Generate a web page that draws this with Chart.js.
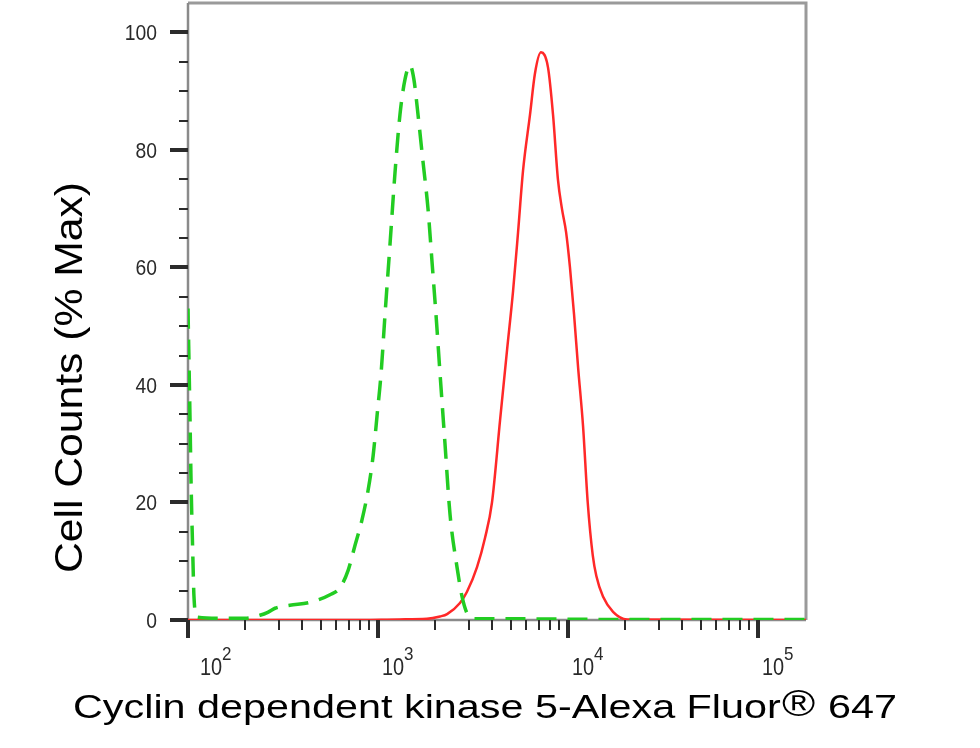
<!DOCTYPE html>
<html>
<head>
<meta charset="utf-8">
<script src="https://cdn.jsdelivr.net/npm/chart.js@4.4.1/dist/chart.umd.min.js"></script>
<style>
  html, body { margin: 0; padding: 0; background: #fff; }
  canvas { display: block; }
</style>
</head>
<body>
<canvas id="chart" width="980" height="748"></canvas>
<script>
// isotype control (green dashed)
const greenX = [100, 102.5, 103.7, 106.2, 107.5, 111.5, 150, 200, 239, 263, 287, 344, 438, 559, 631, 697, 754, 823, 886, 943, 990, 1038, 1089, 1157, 1228, 1305, 1387, 1473, 1545, 1624, 1725, 1833, 1924, 2019, 2120, 2252, 2393, 2605, 2768, 2938, 3241, 5590, 14720, 178900];
const greenY = [53, 34, 24, 10, 4, 0.5, 0.3, 0.3, 0.8, 1.3, 2, 2.5, 3, 4.3, 5.5, 8.5, 12.5, 17, 22, 28, 35, 42, 52, 64, 76, 86, 92, 94.4, 92, 86, 78, 70, 61, 52, 42, 30, 18, 9, 4, 1.2, 0.2, 0.2, 0.1, 0.1];

// CDK5 stained sample (red)
const redX = [100, 700, 1300, 1810, 2120, 2310, 2700, 2940, 3320, 3660, 3980, 4390, 4780, 5140, 5460, 5800, 6310, 6700, 7210, 7850, 8340, 8850, 9290, 9770, 10240, 10760, 11300, 12000, 12700, 13500, 14100, 15280, 17260, 20460, 178900];
const redY = [0, 0, 0.1, 0.2, 0.6, 1.0, 2.9, 4.8, 9, 14, 20, 34, 46, 56, 66, 76.5, 86, 93, 96.6, 94, 86, 75, 70, 66, 60, 52, 43, 33, 20, 11, 7.5, 4, 1.4, 0.1, 0];

const xMajor = [100, 1000, 10000, 100000];
const xExponents = ['2', '3', '4', '5'];
const yTicks = [0, 20, 40, 60, 80, 100];
const yLabel = 'Cell Counts (% Max)';
const xLabelMain = 'Cyclin dependent kinase 5-Alexa Fluor';
const xLabelSup = '\u00AE';
const xLabelEnd = ' 647';

const FONT = "'Liberation Sans', Arial, sans-serif";

function toPoints(xs, ys) {
    return xs.map((x, i) => ({ x: x, y: ys[i] }));
}

function drawScaled(ctx, text, x, y, size, sx, sy, align) {
    ctx.save();
    ctx.translate(x, y);
    ctx.scale(sx, sy);
    ctx.font = size + 'px ' + FONT;
    ctx.textAlign = align || 'left';
    ctx.textBaseline = 'alphabetic';
    ctx.fillText(text, 0, 0);
    ctx.restore();
}

const flowAxes = {
    id: 'flowAxes',
    beforeDatasetsDraw(chart) {
        const { ctx, chartArea: a } = chart;
        ctx.save();
        ctx.strokeStyle = '#9a9a9a';
        ctx.lineWidth = 3;
        ctx.beginPath();
        ctx.moveTo(a.left, a.top);
        ctx.lineTo(a.right, a.top);
        ctx.lineTo(a.right, a.bottom);
        ctx.stroke();
        ctx.strokeStyle = '#8a8a8a';
        ctx.lineWidth = 2.5;
        ctx.beginPath();
        ctx.moveTo(a.left, a.top);
        ctx.lineTo(a.left, a.bottom);
        ctx.lineTo(a.right, a.bottom);
        ctx.stroke();
        ctx.restore();
    },
    afterDraw(chart) {
        const { ctx, chartArea: a } = chart;
        const xs = chart.scales.x;
        const ys = chart.scales.y;
        ctx.save();
        ctx.strokeStyle = '#2b2b2b';
        ctx.fillStyle = '#2a2a2a';

        // y ticks: major every 20, minor every 5
        for (let v = 0; v <= 100; v += 5) {
            const py = Math.round(ys.getPixelForValue(v));
            const major = v % 20 === 0;
            ctx.lineWidth = major ? 4 : 2;
            ctx.beginPath();
            ctx.moveTo(a.left - (major ? 18 : 9), py);
            ctx.lineTo(a.left, py);
            ctx.stroke();
        }
        yTicks.forEach(v => {
            const py = ys.getPixelForValue(v);
            drawScaled(ctx, String(v), a.left - 31, py + 8, 21, 0.92, 1.08, 'right');
        });

        // x ticks: decades and 2..9 minors
        xMajor.forEach(dec => {
            for (let m = 1; m <= 9; m++) {
                const v = dec * m;
                if (v > xs.max) break;
                const px = Math.round(xs.getPixelForValue(v));
                const major = m === 1;
                ctx.lineWidth = major ? 4 : 2;
                ctx.beginPath();
                ctx.moveTo(px, a.bottom);
                ctx.lineTo(px, a.bottom + (major ? 18 : 10));
                ctx.stroke();
            }
        });
        xMajor.forEach((v, i) => {
            const px = Math.max(xs.getPixelForValue(v) + 4, a.left + 12);
            drawScaled(ctx, '10', px, 675, 21, 0.95, 1.15, 'left');
            drawScaled(ctx, xExponents[i], px + 22, 660, 17, 1, 1.07, 'left');
        });

        // axis titles
        ctx.fillStyle = '#000';
        ctx.font = '33px ' + FONT;
        const w1 = ctx.measureText(xLabelMain).width;
        const w3 = ctx.measureText(xLabelEnd).width;
        ctx.font = '36px ' + FONT;
        const w2 = ctx.measureText(xLabelSup).width;
        const sx = 824 / (w1 + w2 + 2 + w3);
        let tx = 73;
        drawScaled(ctx, xLabelMain, tx, 718, 33, sx, 1, 'left');
        tx += (w1 + 1) * sx;
        drawScaled(ctx, xLabelSup, tx, 716, 36, sx, 1, 'left');
        tx += (w2 + 1) * sx;
        drawScaled(ctx, xLabelEnd, tx, 718, 33, sx, 1, 'left');

        ctx.font = '38px ' + FONT;
        const wy = ctx.measureText(yLabel).width;
        ctx.save();
        ctx.translate(82, 377.5);
        ctx.rotate(-Math.PI / 2);
        ctx.scale(391 / wy, 1);
        ctx.textAlign = 'center';
        ctx.textBaseline = 'alphabetic';
        ctx.fillText(yLabel, 0, 0);
        ctx.restore();

        ctx.restore();
    }
};

new Chart(document.getElementById('chart'), {
    type: 'line',
    data: {
        datasets: [{
            label: 'Isotype control',
            data: toPoints(greenX, greenY),
            borderColor: 'rgb(34, 204, 34)',
            borderWidth: 3.5,
            borderDash: [20, 11],
            pointRadius: 0,
            cubicInterpolationMode: 'monotone',
            fill: false
        }, {
            label: 'Cyclin dependent kinase 5',
            data: toPoints(redX, redY),
            borderColor: 'rgb(255, 40, 40)',
            borderWidth: 2.5,
            pointRadius: 0,
            cubicInterpolationMode: 'monotone',
            fill: false
        }]
    },
    options: {
        responsive: false,
        animation: false,
        devicePixelRatio: 1,
        layout: { padding: { left: 0, right: 174, top: 3, bottom: 0 } },
        plugins: {
            legend: { display: false },
            tooltip: { enabled: false }
        },
        scales: {
            x: {
                type: 'logarithmic',
                min: 100,
                max: 178900,
                grid: { display: false, drawTicks: false },
                border: { display: false },
                ticks: { display: false },
                afterFit: s => { s.height = 128; }
            },
            y: {
                type: 'linear',
                min: 0,
                max: 105,
                grid: { display: false, drawTicks: false },
                border: { display: false },
                ticks: { display: false },
                afterFit: s => { s.width = 188; }
            }
        }
    },
    plugins: [flowAxes]
});
</script>
</body>
</html>
